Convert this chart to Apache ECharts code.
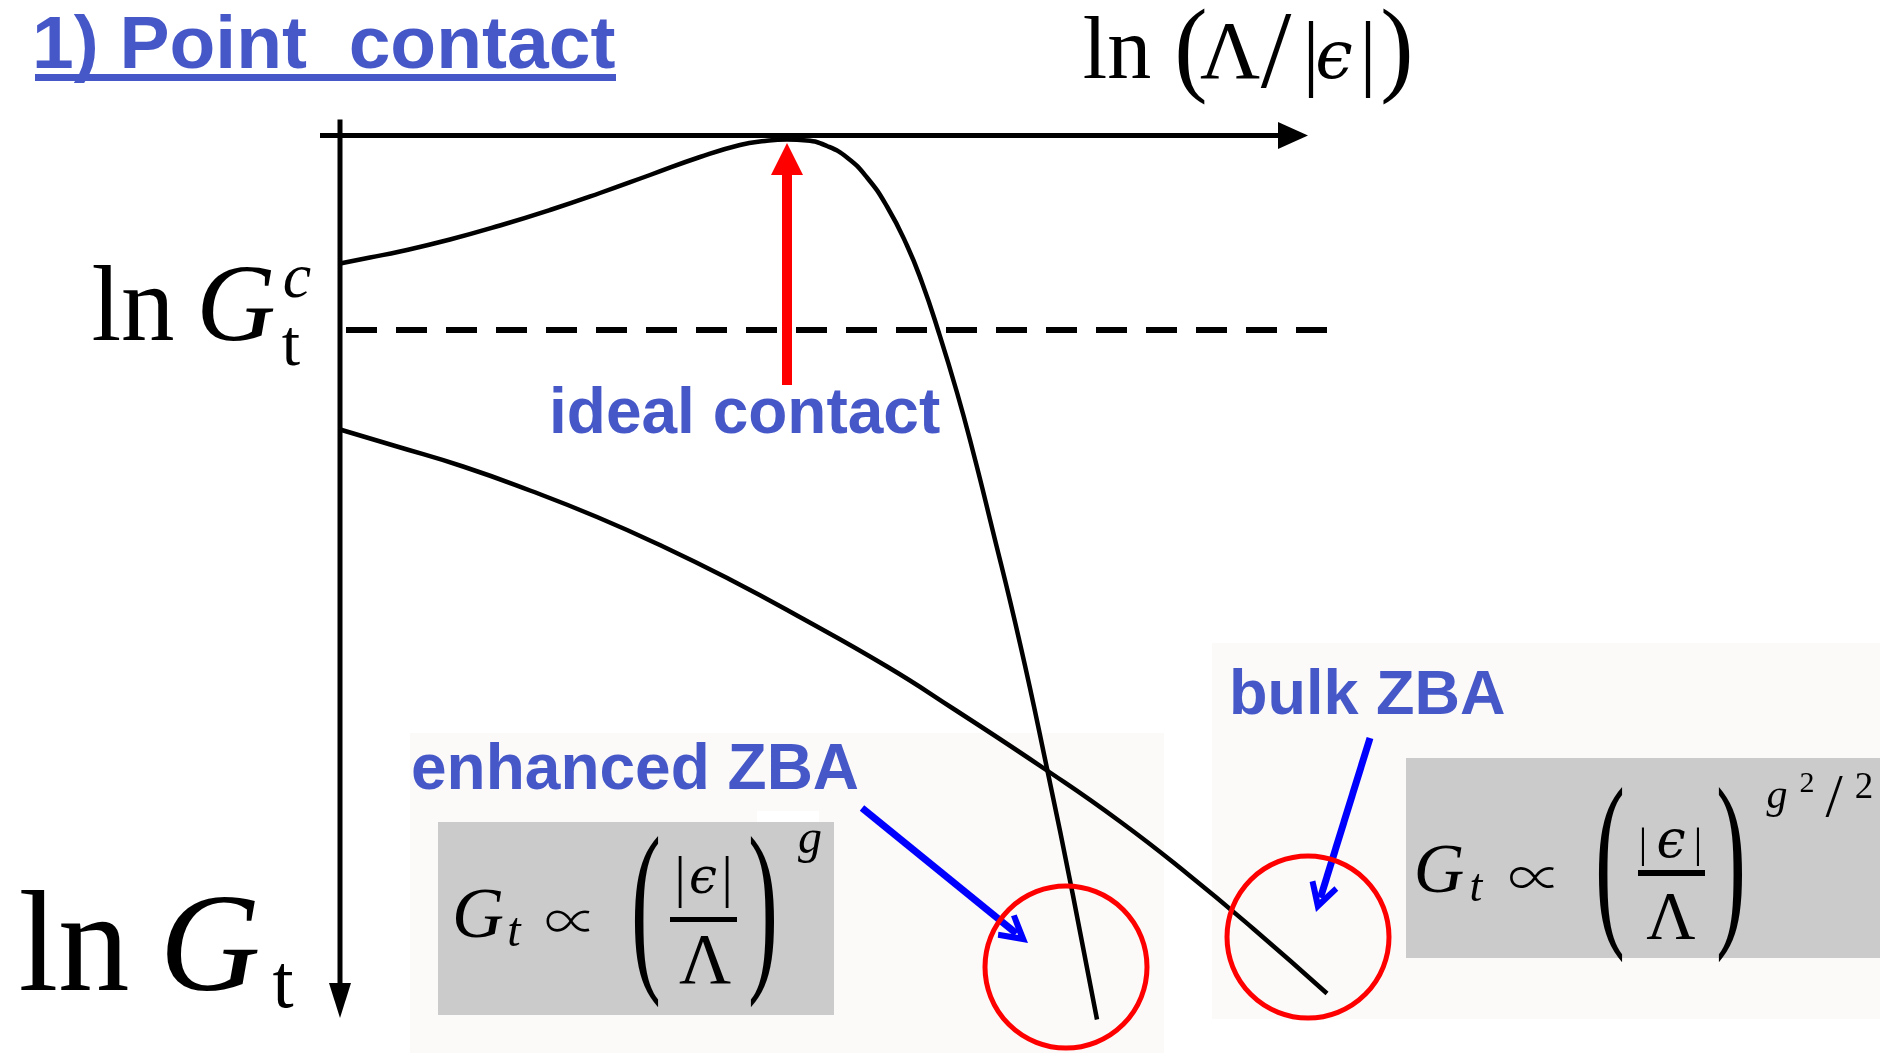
<!DOCTYPE html>
<html>
<head>
<meta charset="utf-8">
<style>
  html, body { margin: 0; padding: 0; background: #fff; }
  #chart { width: 1885px; height: 1053px; }
</style>
<script src="https://cdn.jsdelivr.net/npm/echarts@6/dist/echarts.min.js"></script>
</head>
<body>
<div id="chart"></div>
<script>
// Plot extents (both axes use 100 px per unit; ln G_t grows downward)
const xRange = [-0.2, 10.5];
const yRange = [-0.16, 8.9];

// Drawn axis arrows: from the start overshoot to the arrow-head centre
const xAxisSpan = [-0.2, 9.53];
const yAxisSpan = [-0.16, 8.65];

// Flow of ln G_t with ln(Λ/|ϵ|): contact tuned near the ideal point
const upperX = [0, 0.30, 0.60, 1.10, 1.60, 2.10, 2.60, 3.10, 3.60, 4.00, 4.25, 4.47, 4.67, 4.87, 5.07, 5.27, 5.47, 5.67, 5.82, 5.98, 6.17, 6.33, 6.50, 6.80, 7.07, 7.33, 7.57];
const upperY = [1.28, 1.22, 1.16, 1.04, 0.90, 0.745, 0.575, 0.395, 0.215, 0.095, 0.055, 0.04, 0.05, 0.105, 0.22, 0.42, 0.71, 1.10, 1.47, 1.945, 2.57, 3.16, 3.84, 5.08, 6.33, 7.60, 8.84];

// Weak contact flowing to the bulk behaviour
const lowerX = [0, 0.57, 1.23, 1.90, 2.57, 3.23, 3.90, 4.57, 5.47, 6.13, 7.07, 7.80, 8.47, 9.13, 9.87];
const lowerY = [2.94, 3.11, 3.31, 3.55, 3.815, 4.11, 4.44, 4.80, 5.31, 5.73, 6.35, 6.86, 7.38, 7.93, 8.58];

// Critical conductance ln G_t^c (dashed level)
const thresholdY = 1.945;
const thresholdX = [0.06, 9.92];

// "ideal contact" arrow: x position, tail and head y
const idealX = 4.47;
const idealY = [2.495, 0.235];

// ZBA pointer arrows: tail and tip
const enhancedArrow = [[5.22, 6.725], [6.88, 8.075]];
const bulkArrow = [[10.30, 6.025], [9.76, 7.765]];

// Highlighted low-energy regions
const circles = [[7.26, 8.315], [9.68, 8.015]];

const pairs = (xs, ys) => xs.map((x, i) => [x, ys[i]]);

const BLUE = '#4658c8';
const serif = '"Liberation Serif", "Times New Roman", serif';
const dvs = '"DejaVu Serif", serif';
const propto = '"Noto Sans CJK JP", "DejaVu Sans", sans-serif';
const sans = '"Liberation Sans", Arial, sans-serif';
const MID = 0.26; // canvas "middle" line above the alphabetic baseline, in em

// text placed by its alphabetic baseline
function g(text, cx, base, size, o) {
  o = o || {};
  const fam = o.family || serif;
  return {
    type: 'text', z: 100, silent: true,
    style: {
      text: text, x: cx, y: base - MID * size,
      font: (o.italic ? 'italic ' : '') + (o.bold ? 'bold ' : '') + size + 'px ' + fam,
      fill: o.color || '#000', align: o.align || 'center', verticalAlign: 'middle'
    }
  };
}
// text placed by its vertical centre
function gm(text, cx, cy, size, fam, weight) {
  return {
    type: 'text', z: 100, silent: true,
    style: { text: text, x: cx, y: cy, font: (weight ? weight + ' ' : '') + size + 'px ' + fam, fill: '#000', align: 'center', verticalAlign: 'middle' }
  };
}
// tall bracket stretched vertically around its centre
function paren(ch, cx, cy, height, size) {
  const sy = height / (0.853 * size);
  return {
    type: 'text', z: 100, silent: true, x: cx, y: cy, scaleY: sy,
    style: { text: ch, x: 0, y: -(MID - 0.2495) * size, font: size + 'px ' + serif, fill: '#000', align: 'center', verticalAlign: 'middle' }
  };
}
function rect(x, y, w, h, fill, z) {
  return { type: 'rect', z: z == null ? 0 : z, silent: true, shape: { x: x, y: y, width: w, height: h }, style: { fill: fill } };
}

// move an arrow end back from its tip so that a centred head ends on the tip
function headEnd(arrow, half) {
  const dx = arrow[1][0] - arrow[0][0], dy = arrow[1][1] - arrow[0][1];
  const len = Math.hypot(dx, dy);
  return [arrow[1][0] - dx / len * half, arrow[1][1] - dy / len * half];
}

const chevron = 'path://M15,0 L30,25 L25,28 L15,12 L5,28 L0,25 Z';

const graphics = [
  // panels behind the formulas
  rect(410, 733, 754, 320, '#fbfaf8'),
  rect(1212, 643, 668, 376, '#fbfaf8'),
  rect(757, 811, 62, 11, '#ffffff', 1),
  rect(438, 822, 396, 193, '#cbcbcb', 1),
  rect(1406, 758, 474, 200, '#cbcbcb', 1),

  // title
  g('1) Point  contact', 32, 67, 75, { bold: true, family: sans, align: 'left', color: BLUE }),
  rect(35, 74, 581, 7, BLUE, 100),

  // annotations
  g('ideal contact', 549, 432, 64, { bold: true, family: sans, align: 'left', color: BLUE }),
  g('enhanced ZBA', 411, 788, 64, { bold: true, family: sans, align: 'left', color: BLUE }),
  g('bulk ZBA', 1229, 713, 63, { bold: true, family: sans, align: 'left', color: BLUE }),

  // horizontal axis name: ln(Λ/|ϵ|)
  g('ln', 1117, 78, 88),
  paren('(', 1191, 55, 90, 100),
  g('Λ', 1230, 78, 83),
  g('/', 1276, 87, 110),
  g('|', 1311, 79.5, 85),
  g('ϵ', 1334, 78, 67, { italic: true, family: dvs }),
  g('|', 1368, 79.5, 85),
  paren(')', 1397, 55, 90, 100),

  // level label ln G_t^c
  g('ln', 133, 340, 107),
  g('G', 236, 340, 110, { italic: true }),
  g('c', 297, 297, 64, { italic: true }),
  g('t', 291, 365, 66),

  // vertical axis name ln G_t
  g('ln', 74, 990, 143),
  g('G', 210, 990, 140, { italic: true }),
  g('t', 283, 1007, 76),

  // G_t ∝ (|ϵ|/Λ)^g
  g('G', 478, 937, 72, { italic: true }),
  g('t', 514, 946, 48, { italic: true }),
  gm('∝', 571, 921, 53, propto, 300),
  paren('(', 646, 920, 160, 90),
  g('|', 680, 896, 56),
  g('ϵ', 703, 893, 50, { italic: true, family: dvs }),
  g('|', 727, 896, 56),
  rect(670, 917, 67, 5, '#000', 100),
  g('Λ', 705, 983, 72),
  paren(')', 763, 920, 160, 90),
  g('g', 810, 853, 48, { italic: true }),

  // G_t ∝ (|ϵ|/Λ)^(g²/2)
  g('G', 1439, 892, 70, { italic: true }),
  g('t', 1476, 901, 46, { italic: true }),
  gm('∝', 1535, 877, 54, propto, 300),
  paren('(', 1610, 872, 165, 90),
  g('|', 1643, 857, 42),
  g('ϵ', 1671, 857, 52, { italic: true, family: dvs }),
  g('|', 1698, 857, 42),
  rect(1638, 870, 67, 6, '#000', 100),
  g('Λ', 1671, 938, 68),
  paren(')', 1731, 872, 165, 90),
  g('g', 1777, 808, 42, { italic: true }),
  g('2', 1807, 792, 30),
  g('/', 1834, 816, 62),
  g('2', 1864, 798, 37),

  // page edge
  rect(1880, 600, 5, 453, '#ffffff', 200)
];

const hidden = { show: false };
const chart = echarts.init(document.getElementById('chart'), null, { renderer: 'canvas' });
chart.setOption({
  animation: false,
  backgroundColor: '#ffffff',
  grid: { left: 320, top: 119.5, width: (xRange[1] - xRange[0]) * 100, height: (yRange[1] - yRange[0]) * 100 },
  xAxis: { type: 'value', min: xRange[0], max: xRange[1], axisLine: hidden, axisTick: hidden, axisLabel: hidden, splitLine: hidden },
  yAxis: { type: 'value', inverse: true, min: yRange[0], max: yRange[1], axisLine: hidden, axisTick: hidden, axisLabel: hidden, splitLine: hidden },
  graphic: graphics,
  series: [
    // horizontal axis ln(Λ/|ϵ|)
    {
      type: 'line', data: xAxisSpan.map(x => [x, 0]), symbol: 'none', clip: false, silent: true, z: 3,
      lineStyle: { color: '#000', width: 5 },
      markPoint: {
        silent: true, animation: false, label: { show: false },
        data: [{ coord: [xAxisSpan[1], 0], symbol: 'triangle', symbolSize: [27, 30], symbolRotate: -90, itemStyle: { color: '#000' } }]
      }
    },
    // vertical axis ln G_t
    {
      type: 'line', data: yAxisSpan.map(y => [0, y]), symbol: 'none', clip: false, silent: true, z: 3,
      lineStyle: { color: '#000', width: 5 },
      markPoint: {
        silent: true, animation: false, label: { show: false },
        data: [{ coord: [0, yAxisSpan[1]], symbol: 'triangle', symbolSize: [22, 35], symbolRotate: 180, itemStyle: { color: '#000' } }]
      }
    },
    {
      type: 'line', data: pairs(upperX, upperY), symbol: 'none', smooth: 0.5, clip: false, silent: true, z: 5,
      lineStyle: { color: '#000', width: 4.5 }
    },
    {
      type: 'line', data: pairs(lowerX, lowerY), symbol: 'none', smooth: 0.5, clip: false, silent: true, z: 5,
      lineStyle: { color: '#000', width: 4.5 }
    },
    {
      type: 'line', data: thresholdX.map(x => [x, thresholdY]), symbol: 'none', clip: false, silent: true, z: 4,
      lineStyle: { color: '#000', width: 6, type: [31, 19], cap: 'butt' }
    },
    {
      type: 'line', data: [], silent: true, z: 6,
      markLine: {
        silent: true, animation: false, symbol: ['none', 'triangle'], symbolSize: 32,
        label: { show: false }, emphasis: { disabled: true },
        lineStyle: { color: '#ff0000', width: 10, type: 'solid', opacity: 1 },
        data: [[{ coord: [idealX, idealY[0]] }, { coord: [idealX, idealY[1]] }]]
      }
    },
    {
      type: 'line', data: [], silent: true, z: 6,
      markLine: {
        silent: true, animation: false, symbol: ['none', chevron], symbolSize: 30,
        label: { show: false }, emphasis: { disabled: true },
        lineStyle: { color: '#0000ff', width: 7, type: 'solid', opacity: 1 },
        data: [
          [{ coord: enhancedArrow[0] }, { coord: headEnd(enhancedArrow, 0.15) }],
          [{ coord: bulkArrow[0] }, { coord: headEnd(bulkArrow, 0.15) }]
        ]
      }
    },
    {
      type: 'scatter', data: circles, symbol: 'circle', symbolSize: 162, clip: false, silent: true, z: 6,
      itemStyle: { color: 'rgba(0,0,0,0)', borderColor: '#ff0000', borderWidth: 5, opacity: 1 }
    }
  ]
});
</script>
</body>
</html>
